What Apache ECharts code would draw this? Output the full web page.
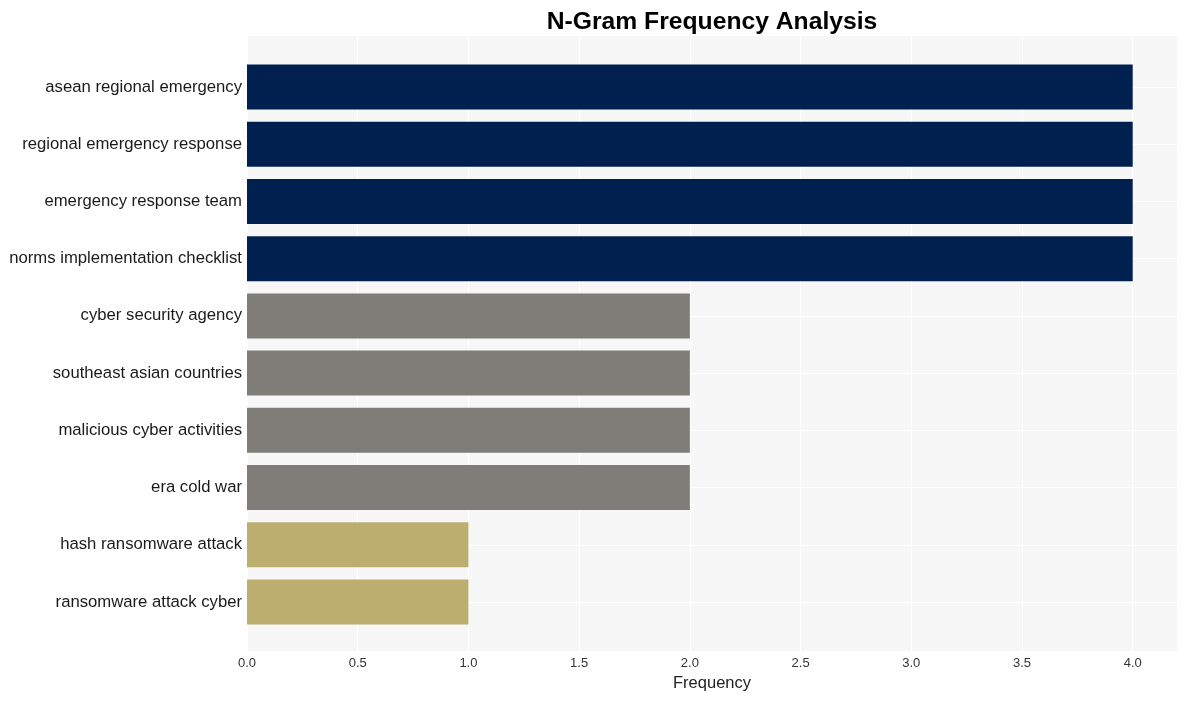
<!DOCTYPE html>
<html><head><meta charset="utf-8">
<script src="https://cdn.jsdelivr.net/npm/echarts@6/dist/echarts.min.js"></script>
<style>html,body{margin:0;padding:0;background:#fff}#c{width:1187px;height:701px}</style>
</head><body><div id="c"></div>
<script>
const categories = ["asean regional emergency","regional emergency response","emergency response team","norms implementation checklist","cyber security agency","southeast asian countries","malicious cyber activities","era cold war","hash ransomware attack","ransomware attack cyber"];
const values = [4,4,4,4,2,2,2,2,1,1];
const colorGroups = ["#002150","#002150","#002150","#002150","#7f7d78","#7f7d78","#7f7d78","#7f7d78","#bcae6f","#bcae6f"];
const xTicks = {min:0, max:4.2, interval:0.5};

const F = 'Liberation Sans, Arial, sans-serif';
const chart = echarts.init(document.getElementById('c'), null, {renderer:'canvas'});
chart.setOption({
  animation:false,
  title:{text:'N-Gram Frequency Analysis', left:707, textAlign:'center', top:5,
    textStyle:{fontFamily:F, fontSize:24.7, fontWeight:'bold', color:'#000'}},
  grid:[
    {left:247, right:10, top:36, bottom:50, show:true, backgroundColor:'#f7f7f7', borderWidth:0, z:-1},
    {left:247, right:10, top:87, bottom:99, show:false}
  ],
  xAxis:[
    {gridIndex:0, type:'value', min:xTicks.min, max:xTicks.max, interval:xTicks.interval,
      name:'Frequency', nameLocation:'middle', nameGap:24,
      nameTextStyle:{fontFamily:F, fontSize:16.5, color:'#222'},
      axisLine:{show:false}, axisTick:{show:false},
      axisLabel:{showMaxLabel:false, fontFamily:F, fontSize:13, color:'#333', margin:6,
        formatter:v=>v.toFixed(1)},
      splitLine:{show:true, lineStyle:{color:'#ffffff', width:1}}},
    {gridIndex:1, type:'value', min:xTicks.min, max:xTicks.max, interval:xTicks.interval, show:false, splitLine:{show:false}}
  ],
  yAxis:[
    {gridIndex:0, type:'value', show:false, splitLine:{show:false}},
    {gridIndex:1, type:'category', data:categories, inverse:true, boundaryGap:false, z:2,
      axisLine:{show:false}, axisTick:{show:false},
      axisLabel:{fontFamily:F, fontSize:16.7, color:'#1a1a1a', margin:5, verticalAlign:'middle', padding:[3,0,0,0]},
      splitLine:{show:true, lineStyle:{color:'#ffffff', width:1}}}
  ],
  series:[{
    type:'bar', xAxisIndex:1, yAxisIndex:1, barWidth:45, z:3,
    data: values.map((v,i)=>({value:v, itemStyle:{color:colorGroups[i]}}))
  }]
});
</script></body></html>
